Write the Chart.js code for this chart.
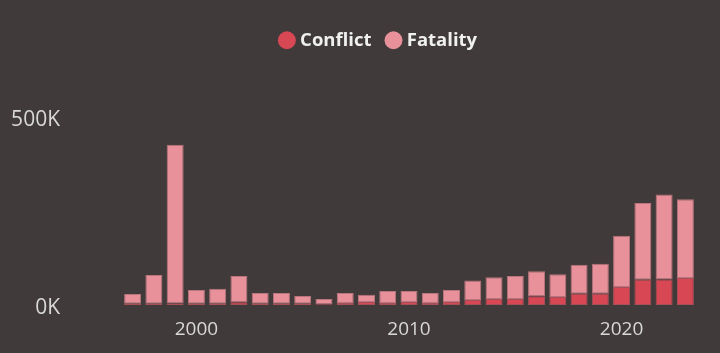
<!DOCTYPE html>
<html>
<head>
<meta charset="utf-8">
<script src="https://cdn.jsdelivr.net/npm/chart.js@4/dist/chart.umd.min.js"></script>
<style>
  html, body { margin: 0; padding: 0; background: #403a3a; }
  canvas { display: block; }
</style>
</head>
<body>
<canvas id="chart" width="720" height="353"></canvas>
<script>
const years = [1997, 1998, 1999, 2000, 2001, 2002, 2003, 2004, 2005, 2006, 2007, 2008, 2009,
    2010, 2011, 2012, 2013, 2014, 2015, 2016, 2017, 2018, 2019, 2020, 2021, 2022, 2023];
const conflict = [3000, 3000, 4000, 3000, 3000, 7000, 3000, 3000, 3000, 2000, 5000, 8000, 5000,
    8000, 5000, 8000, 13000, 16000, 16000, 23000, 21000, 30000, 30000, 48000, 67000, 68000, 72000];
const fatality = [26000, 77000, 422000, 37000, 40000, 70000, 29000, 29000, 21000, 14000, 27000, 19000, 32000,
    29000, 27000, 32000, 52000, 58000, 61000, 67000, 61000, 77000, 80000, 136000, 204000, 226000, 209000];
const yTicks = [0, 500000];

// taller legend box pushes the plot down; shift it right to sit over the plot
const legendSpace = {
    id: 'legendSpace',
    beforeInit(chart) {
        const fit = chart.legend.fit;
        chart.legend.fit = function () {
            fit.bind(chart.legend)();
            this.height = 104;
        };
    },
    afterLayout(chart) {
        chart.legend.left += 64;
    }
};

const ctx = document.getElementById('chart').getContext('2d');
new Chart(ctx, {
    type: 'bar',
    data: {
        labels: years,
        datasets: [{
            label: 'Conflict',
            data: conflict,
            backgroundColor: '#d84754',
            borderColor: '#a8505a',
            borderWidth: 1,
            borderSkipped: false
        }, {
            label: 'Fatality',
            data: fatality,
            backgroundColor: '#e8919a',
            borderColor: '#b8757d',
            borderWidth: 1,
            borderSkipped: false
        }]
    },
    options: {
        responsive: false,
        animation: false,
        devicePixelRatio: 1,
        datasets: {
            bar: { barPercentage: 0.8, categoryPercentage: 1.0 }
        },
        layout: { padding: { left: 0, right: 24, top: 13, bottom: 0 } },
        plugins: {
            legend: {
                position: 'top',
                align: 'center',
                labels: {
                    usePointStyle: true,
                    pointStyle: 'circle',
                    boxWidth: 8,
                    boxHeight: 12.7,
                    padding: 18,
                    color: '#f0f0f0',
                    font: { family: 'Open Sans', size: 18.5, weight: 'bold' },
                    generateLabels(chart) {
                        const items = Chart.defaults.plugins.legend.labels.generateLabels(chart);
                        items.forEach(it => { it.lineWidth = 0; it.strokeStyle = 'transparent'; });
                        return items;
                    }
                }
            },
            tooltip: { enabled: false }
        },
        scales: {
            x: {
                stacked: true,
                grid: { display: false, drawTicks: false },
                border: { display: false },
                afterFit(scale) { scale.height = 48; },
                ticks: {
                    autoSkip: false,
                    maxRotation: 0,
                    padding: 13,
                    color: '#d8d8d8',
                    font: { family: 'Open Sans', size: 19 },
                    callback(value, index) {
                        const y = years[index];
                        return y % 10 === 0 ? String(y) : '';
                    }
                }
            },
            y: {
                stacked: true,
                min: yTicks[0],
                max: yTicks[yTicks.length - 1],
                grid: { display: false, drawTicks: false },
                border: { display: false },
                afterFit(scale) {
                    scale.width = 122;
                    scale.paddingTop = 0;
                    scale.paddingBottom = 0;
                },
                ticks: {
                    stepSize: yTicks[1] - yTicks[0],
                    padding: 62,
                    labelOffset: 3,
                    color: '#d8d8d8',
                    font: { family: 'Open Sans', size: 21 },
                    callback: v => (v / 1000) + 'K'
                }
            }
        }
    },
    plugins: [legendSpace]
});
</script>
</body>
</html>
